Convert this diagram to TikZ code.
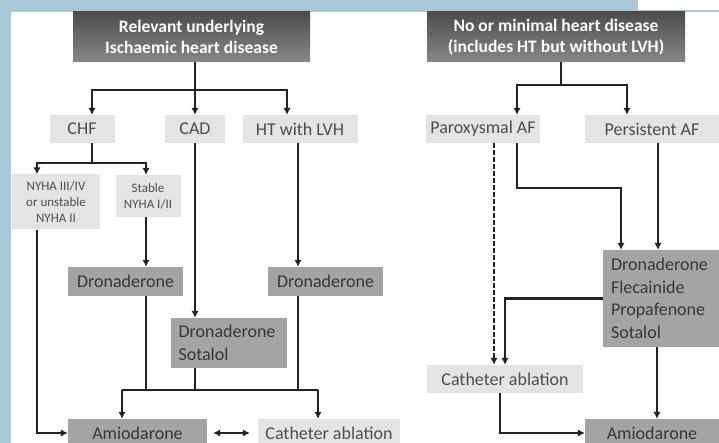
\documentclass[tikz,border=0pt]{standalone}
\usepackage{fontspec}
\setmainfont{Carlito}
\usepackage{tikz}
\usetikzlibrary{arrows.meta}

\definecolor{backblue}{HTML}{A8C8D5}
\definecolor{lightbox}{HTML}{E4E4E4}
\definecolor{midbox}{HTML}{A4A4A4}
\definecolor{lighttext}{HTML}{4E4E4E}
\definecolor{midtext}{HTML}{383838}
\definecolor{linecol}{HTML}{222222}

\tikzset{
    hdr/.style={top color=black!70, bottom color=black!47, draw=none, text=white,
        font=\fontsize{17.5}{21}\selectfont\bfseries, align=center, inner sep=0pt},
    lbox/.style={fill=lightbox, text=lighttext, font=\fontsize{18}{22}\selectfont,
        align=center, inner sep=0pt},
    mbox/.style={fill=midbox, text=midtext, font=\fontsize{18}{22.5}\selectfont,
        align=center, inner sep=0pt},
    small/.style={font=\fontsize{13}{16}\selectfont},
    conn/.style={draw=linecol, line width=2.8pt},
    ->/.style={conn, -{Latex[length=7pt,width=7.5pt]}},
}

\begin{document}
\begin{tikzpicture}[x=1pt,y=-1pt]

    \useasboundingbox (0,0) rectangle (719,443);
    \fill[backblue] (0,0) rectangle (719,443);
    \fill[white] (11,12) rectangle (719,443);
    \fill[white] (638,0) rectangle (719,10);

    \node[hdr, minimum width=237, minimum height=50] (hdrL) at (191.5,37) {Relevant underlying\\Ischaemic heart disease};
    \node[hdr, minimum width=258, minimum height=50] (hdrR) at (556,37) {No or minimal heart disease\\(includes HT but without LVH)};

    \node[lbox, minimum width=65, minimum height=28] (chf) at (82,129) {CHF};
    \node[lbox, minimum width=60, minimum height=28] (cad) at (195,129) {CAD};
    \node[lbox, minimum width=115, minimum height=28] (htlvh) at (300,129) {HT with LVH};
    \node[lbox, small, minimum width=88, minimum height=55] (nyhaA) at (56,202) {NYHA III/IV\\or unstable\\NYHA II};
    \node[lbox, small, minimum width=65, minimum height=42] (nyhaB) at (148,196) {Stable\\NYHA I/II};

    \node[mbox, minimum width=115, minimum height=29] (droL) at (125.5,281.5) {Dronaderone};
    \node[mbox, minimum width=115, minimum height=29] (droR) at (325.5,281.5) {Dronaderone};
    \node[mbox, align=left, text width=100, inner xsep=8, minimum height=50] (droS) at (228.5,343) {Dronaderone\\Sotalol};

    \node[mbox, minimum width=139, minimum height=28] (amiL) at (137.5,433) {Amiodarone};
    \node[lbox, minimum width=142, minimum height=28] (cathL) at (329,433) {Catheter ablation};

    \node[lbox, minimum width=114, minimum height=28] (parox) at (483,129) {Paroxysmal AF};
    \node[lbox, minimum width=134, minimum height=28] (persis) at (652,129) {Persistent AF};
    \node[mbox, align=left, text width=100, inner xsep=8, minimum height=97] (drugs) at (661,298.5) {Dronaderone\\Flecainide\\Propafenone\\Sotalol};
    \node[lbox, minimum width=156, minimum height=28] (cathR) at (505,379) {Catheter ablation};
    \node[mbox, minimum width=134, minimum height=28] (amiR) at (652,433) {Amiodarone};

    \coordinate (jL) at (195,90);
    \coordinate (jC) at (92,163);
    \coordinate (jM1) at (122,390);
    \coordinate (jM2) at (318,390);
    \coordinate (jR) at (561,85);
    \coordinate (jP) at (621,188);

    \draw[conn] (jL |- hdrL.south) -- (jL);
    \draw[->] (jL) -| ([xshift=10pt]chf.north);
    \draw[->] (jL) -- (cad.north);
    \draw[->] (jL) -| ([xshift=-13pt]htlvh.north);

    \draw[conn] ([xshift=10pt]chf.south) -- (jC);
    \draw[->] (jC) -| ([xshift=-19pt]nyhaA.north);
    \draw[->] (jC) -| ([xshift=-2pt]nyhaB.north);

    \draw[->] ([xshift=-19pt]nyhaA.south) |- (amiL.west);
    \draw[->] ([xshift=-2pt]nyhaB.south) -- ([xshift=-2pt]nyhaB.south |- droL.north);
    \draw[->] (cad.south) -- (cad.south |- droS.north);
    \draw[->] ([xshift=-2pt]htlvh.south) -- ([xshift=-2pt]htlvh.south |- droR.north);

    \draw[conn] (jM1) -- (jM2);
    \draw[conn] ([xshift=20.5pt]droL.south) -- ([xshift=20.5pt]droL.south |- jM1);
    \draw[conn] (cad.south |- droS.south) -- (cad.south |- jM1);
    \draw[conn] ([xshift=-27.5pt]droR.south) -- ([xshift=-27.5pt]droR.south |- jM1);
    \draw[->] (jM1) -- (jM1 |- amiL.north);
    \draw[->] (jM2) -- (jM2 |- cathL.north);
    \draw[->, {Latex[length=7pt,width=7.5pt]}-{Latex[length=7pt,width=7.5pt]}, shorten <=6pt, shorten >=8pt] (amiL.east) -- (cathL.west);

    \draw[conn] (jR |- hdrR.south) -- (jR);
    \draw[->] (jR) -| ([xshift=34pt]parox.north);
    \draw[->] (jR) -| ([xshift=-25pt]persis.north);

    \draw[->, dash pattern=on 5pt off 2pt] ([xshift=11pt]parox.south) -- ([xshift=11pt]parox.south |- cathR.north);
    \draw[->] ([xshift=34pt]parox.south) |- (jP) -- (jP |- drugs.north);
    \draw[->] ([xshift=6pt]persis.south) -- ([xshift=6pt]persis.south |- drugs.north);
    \draw[->] (drugs.west) -| (cathR.north);
    \draw[->] ([xshift=-5pt]cathR.south) |- (amiR.west);
    \draw[->] ([xshift=-4pt]drugs.south) -- ([xshift=-4pt]drugs.south |- amiR.north);

\end{tikzpicture}
\end{document}
